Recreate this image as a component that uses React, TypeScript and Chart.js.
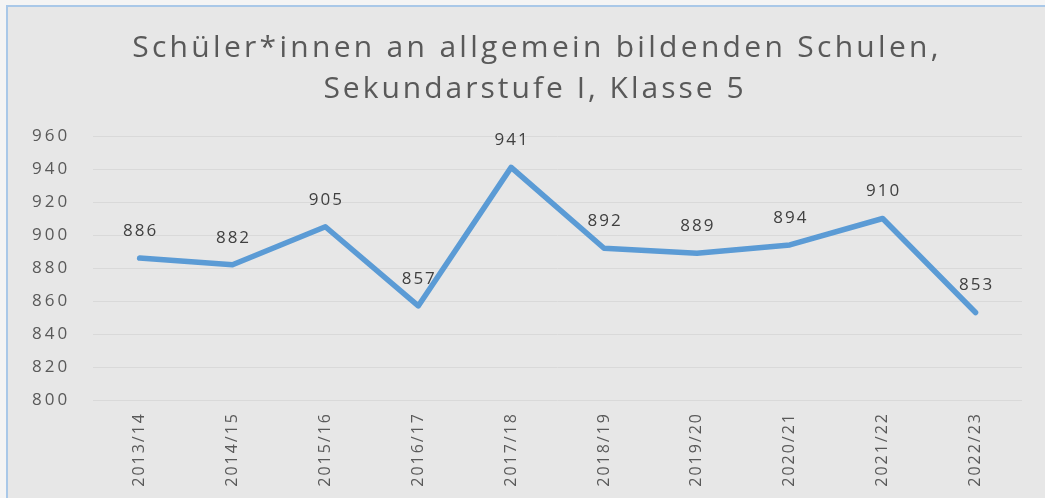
import React, { useEffect, useRef } from "react";
import { Chart, registerables } from "chart.js";
Chart.register(...registerables);

const titleLines = ["Schüler*innen an allgemein bildenden Schulen,", "Sekundarstufe I, Klasse 5"];
const categories = ["2013/14", "2014/15", "2015/16", "2016/17", "2017/18", "2018/19", "2019/20", "2020/21", "2021/22", "2022/23"];
const values = [886, 882, 905, 857, 941, 892, 889, 894, 910, 853];
const yMin = 800;
const yMax = 960;
const yStep = 20;

const FONT = "'Open Sans', sans-serif";

const spacingPlugin = {
  id: "spacing",
  beforeUpdate(chart: any) {
    chart.ctx.letterSpacing = "3px";
  },
  afterLayout(chart: any) {
    const xs = chart.scales.x;
    if (xs && !xs.__wrapped) {
      const orig = xs.drawLabels.bind(xs);
      xs.drawLabels = (area: any) => {
        const ctx = chart.ctx;
        const prev = ctx.letterSpacing;
        ctx.letterSpacing = "2px";
        orig(area);
        ctx.letterSpacing = prev;
      };
      xs.__wrapped = true;
    }
  },
  beforeDraw(chart: any) {
    chart.ctx.letterSpacing = "3px";
  },
};

const titlePlugin = {
  id: "customTitle",
  afterDraw(chart: any) {
    const ctx = chart.ctx;
    ctx.save();
    ctx.font = `30px ${FONT}`;
    ctx.fillStyle = "#595959";
    ctx.textAlign = "center";
    ctx.textBaseline = "alphabetic";
    ctx.letterSpacing = "3.3px";
    ctx.fillText(titleLines[0], 537, 57);
    ctx.letterSpacing = "3px";
    ctx.fillText(titleLines[1], 535, 98);
    ctx.restore();
  },
};

const dataLabelPlugin = {
  id: "dataLabels",
  afterDatasetsDraw(chart: any) {
    const ctx = chart.ctx;
    const meta = chart.getDatasetMeta(0);
    ctx.save();
    ctx.letterSpacing = "2px";
    ctx.font = `17px ${FONT}`;
    ctx.fillStyle = "#404040";
    ctx.textAlign = "center";
    ctx.textBaseline = "middle";
    meta.data.forEach((pt: any, i: number) => {
      ctx.fillText(String(values[i]), pt.x + 1, pt.y - 27);
    });
    ctx.restore();
  },
};

export default function App() {
  const ref = useRef<HTMLCanvasElement>(null);
  useEffect(() => {
    if (!ref.current) return;
    const chart = new Chart(ref.current, {
      type: "line",
      data: {
        labels: categories,
        datasets: [
          {
            data: values,
            borderColor: "#5b9bd5",
            borderWidth: 5.5,
            pointRadius: 0,
            borderJoinStyle: "round",
            borderCapStyle: "round",
            tension: 0,
            fill: false,
          },
        ],
      },
      options: {
        responsive: false,
        maintainAspectRatio: false,
        animation: false,
        layout: { padding: { left: 9, right: 23, top: 136, bottom: 0 } },
        plugins: {
          legend: { display: false },
          tooltip: { enabled: false },
          title: { display: false },
        },
        scales: {
          x: {
            type: "category",
            offset: true,
            grid: { display: false, drawTicks: false },
            border: { display: false },
            afterFit(scale: any) {
              scale.height = 98;
            },
            ticks: {
              color: "#595959",
              font: { family: FONT, size: 16 },
              maxRotation: 90,
              minRotation: 90,
              padding: 12,
            },
          },
          y: {
            min: yMin,
            max: yMax,
            grid: { color: "#d9d9d9", lineWidth: 1, drawTicks: false },
            border: { display: false },
            ticks: {
              stepSize: yStep,
              color: "#595959",
              font: { family: FONT, size: 17 },
              padding: 23,
            },
          },
        },
      },
      plugins: [spacingPlugin, dataLabelPlugin, titlePlugin],
    });
    return () => chart.destroy();
  }, []);

  return (
    <div style={{ position: "fixed", left: 0, top: 0, width: 1045, height: 498, background: "#f4f4f4", overflow: "hidden" }}>
      <div
        style={{
          position: "absolute",
          left: 6,
          top: 5,
          width: 1200,
          height: 700,
          border: "2px solid #a9c8e8",
          background: "#e7e7e7",
          boxSizing: "border-box",
        }}
      />
      <canvas ref={ref} width={1045} height={498} style={{ position: "absolute", left: 0, top: 0, width: 1045, height: 498 }} />
    </div>
  );
}
